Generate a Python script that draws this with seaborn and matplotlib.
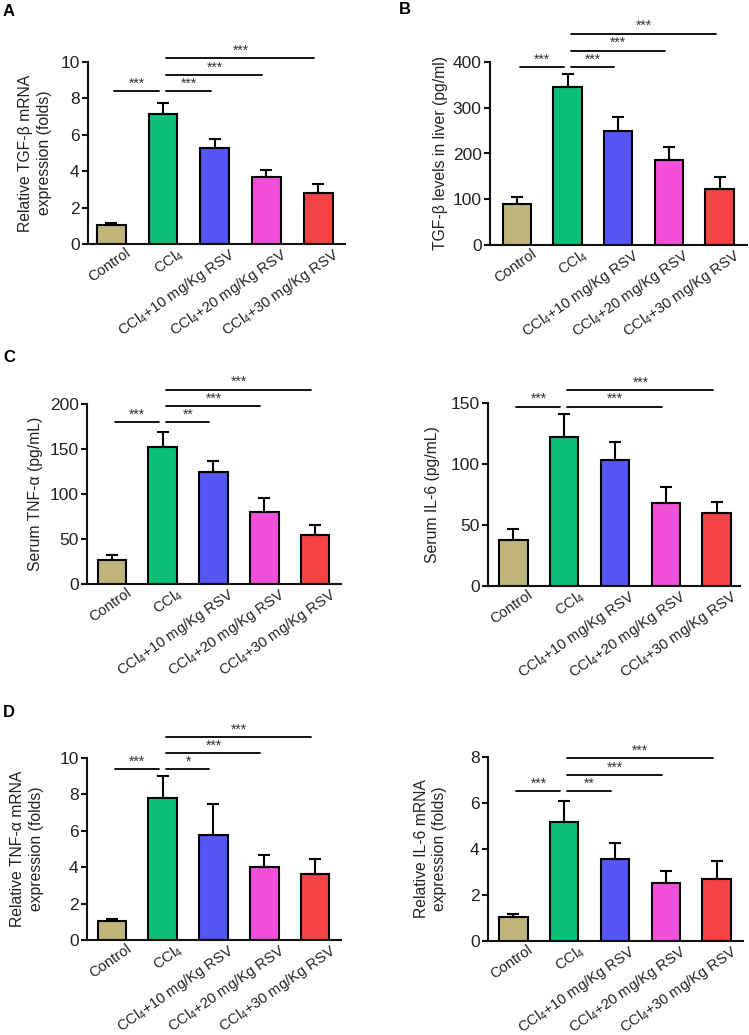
import numpy as np
import pandas as pd
import matplotlib
matplotlib.use('Agg')
import matplotlib.pyplot as plt
import seaborn as sns
from matplotlib.transforms import ScaledTranslation

# ---------------- data ----------------
groups = ['Control', 'CCl4', 'CCl4+10', 'CCl4+20', 'CCl4+30']
tick_labels = ['Control',
               r'CCl$_\mathregular{4}$',
               r'CCl$_\mathregular{4}$+10 mg/Kg RSV',
               r'CCl$_\mathregular{4}$+20 mg/Kg RSV',
               r'CCl$_\mathregular{4}$+30 mg/Kg RSV']
colors = ['#BFB57B', '#0CBF78', '#5656F6', '#F250D8', '#F54343']

tgfb_mrna = [1.03, 7.15, 5.25, 3.7, 2.8]
tgfb_mrna_err = [0.12, 0.6, 0.5, 0.35, 0.5]
tgfb_liver = [90, 346, 249, 186, 123]
tgfb_liver_err = [14, 28, 30, 28, 26]
tnfa_serum = [27, 152, 124.5, 80, 54.5]
tnfa_serum_err = [5, 17, 12, 15.5, 11]
il6_serum = [38, 122, 103, 68, 60]
il6_serum_err = [8.5, 19, 15, 13, 9]
tnfa_mrna = [1.03, 7.8, 5.78, 4.03, 3.64]
tnfa_mrna_err = [0.13, 1.2, 1.7, 0.65, 0.82]
il6_mrna = [1.04, 5.17, 3.57, 2.52, 2.7]
il6_mrna_err = [0.15, 0.9, 0.7, 0.52, 0.8]

# significance brackets: (group i, group j), height, label
sig_a_pairs = [(0, 1), (1, 2), (1, 3), (1, 4)]
sig_a_y = [8.4, 8.4, 9.3, 10.2]
sig_a_txt = ['***', '***', '***', '***']
sig_b_pairs = [(0, 1), (1, 2), (1, 3), (1, 4)]
sig_b_y = [389, 389, 425, 462]
sig_b_txt = ['***', '***', '***', '***']
sig_c1_pairs = [(0, 1), (1, 2), (1, 3), (1, 4)]
sig_c1_y = [180, 180, 198, 216]
sig_c1_txt = ['***', '**', '***', '***']
sig_c2_pairs = [(0, 1), (1, 3), (1, 4)]
sig_c2_y = [147, 147, 160.5]
sig_c2_txt = ['***', '***', '***']
sig_d1_pairs = [(0, 1), (1, 2), (1, 3), (1, 4)]
sig_d1_y = [9.4, 9.4, 10.27, 11.15]
sig_d1_txt = ['***', '*', '***', '***']
sig_d2_pairs = [(0, 1), (1, 2), (1, 3), (1, 4)]
sig_d2_y = [6.52, 6.52, 7.22, 7.96]
sig_d2_txt = ['***', '**', '***', '***']

# ---------------- style ----------------
sns.set_theme(style='ticks')
plt.rcParams['font.family'] = ['Liberation Sans', 'DejaVu Sans']
plt.rcParams['mathtext.fontset'] = 'custom'
plt.rcParams['mathtext.rm'] = 'Liberation Sans'
plt.rcParams['mathtext.it'] = 'Liberation Sans:italic'
plt.rcParams['mathtext.bf'] = 'Liberation Sans:bold'
plt.rcParams['axes.edgecolor'] = '#111111'
plt.rcParams['text.color'] = '#222222'

W, H = 749, 1035
fig = plt.figure(figsize=(W / 100, H / 100), dpi=100)

panels = [
    dict(vals=tgfb_mrna, err=tgfb_mrna_err, top=10, step=2,
         ylabel='Relative TGF-β mRNA\nexpression (folds)',
         px=(88, 345, 62, 244), xlim=(-0.45, 4.52), lab_x=-0.14,
         sig=(sig_a_pairs, sig_a_y, sig_a_txt), letter='A', lpos=(3, 4)),
    dict(vals=tgfb_liver, err=tgfb_liver_err, top=400, step=100,
         ylabel='TGF-β levels in liver (pg/ml)',
         px=(490, 747, 62, 245), xlim=(-0.53, 4.54), lab_x=-0.165,
         sig=(sig_b_pairs, sig_b_y, sig_b_txt), letter='B', lpos=(399, 2)),
    dict(vals=tnfa_serum, err=tnfa_serum_err, top=200, step=50,
         ylabel='Serum TNF-α (pg/mL)',
         px=(87, 341, 404, 584), xlim=(-0.49, 4.51), lab_x=-0.175,
         sig=(sig_c1_pairs, sig_c1_y, sig_c1_txt), letter='C', lpos=(3, 350)),
    dict(vals=il6_serum, err=il6_serum_err, top=150, step=50,
         ylabel='Serum IL-6 (pg/mL)',
         px=(488, 740, 403, 586), xlim=(-0.5, 4.46), lab_x=-0.19,
         sig=(sig_c2_pairs, sig_c2_y, sig_c2_txt), letter=None, lpos=None),
    dict(vals=tnfa_mrna, err=tnfa_mrna_err, top=10, step=2,
         ylabel='Relative TNF-α mRNA\nexpression (folds)',
         px=(87, 341, 758, 940), xlim=(-0.49, 4.51), lab_x=-0.17,
         sig=(sig_d1_pairs, sig_d1_y, sig_d1_txt), letter='D', lpos=(3, 705)),
    dict(vals=il6_mrna, err=il6_mrna_err, top=8, step=2,
         ylabel='Relative IL-6 mRNA\nexpression (folds)',
         px=(488, 743, 757, 941), xlim=(-0.5, 4.52), lab_x=-0.16,
         sig=(sig_d2_pairs, sig_d2_y, sig_d2_txt), letter=None, lpos=None),
]

for p in panels:
    l, r, t, b = p['px']
    ax = fig.add_axes([l / W, 1 - b / H, (r - l) / W, (b - t) / H])
    df = pd.DataFrame({'group': groups, 'value': p['vals']})
    sns.barplot(data=df, x='group', y='value', hue='group', palette=colors,
                order=groups, hue_order=groups, legend=False, errorbar=None,
                width=0.56, edgecolor='black', linewidth=1.5, saturation=1,
                ax=ax, zorder=2)
    errs = np.array(p['err'])
    ax.errorbar(np.arange(len(groups)), p['vals'],
                yerr=[np.zeros_like(errs), errs], fmt='none', ecolor='black',
                elinewidth=1.5, capsize=4.5, capthick=1.5, zorder=3)
    ax.set_ylim(0, p['top'])
    ax.set_yticks(np.arange(0, p['top'] + p['step'] / 2, p['step']))
    ax.set_xlim(*p['xlim'])
    ax.set_xlabel('')
    ax.set_ylabel(p['ylabel'], fontsize=11.3, color='#222222', linespacing=1.3)
    ax.yaxis.set_label_coords(p['lab_x'], 0.5)
    sns.despine(ax=ax)
    for s in ['left', 'bottom']:
        ax.spines[s].set_linewidth(1.5)
    ax.tick_params(axis='y', length=4, width=1.5, labelsize=12.5, pad=2,
                   colors='#111111', labelcolor='#222222')
    ax.tick_params(axis='x', length=0, pad=1, labelsize=10.6, labelcolor='#222222')
    ax.set_xticks(range(len(groups)))
    ax.set_xticklabels(tick_labels, rotation=35, ha='right', va='top',
                       rotation_mode='anchor')
    off = ScaledTranslation(14 / 100, 0, fig.dpi_scale_trans)
    for lab in ax.get_xticklabels():
        lab.set_transform(lab.get_transform() + off)

    pairs, ys, txts = p['sig']
    for (i, j), y, s in zip(pairs, ys, txts):
        ax.plot([i + 0.06, j - 0.08], [y, y], color='black', lw=1.3,
                clip_on=False, zorder=4)
        ax.annotate(s, xy=((i + j) / 2, y), xytext=(0, 0.3),
                    textcoords='offset points', ha='center', va='bottom',
                    fontsize=10, color='#333333', annotation_clip=False)

    if p['letter']:
        fig.text(p['lpos'][0] / W, 1 - p['lpos'][1] / H, p['letter'],
                 fontsize=12, fontweight='bold', ha='left', va='top',
                 color='black')

fig.savefig('out.png', dpi=100)
